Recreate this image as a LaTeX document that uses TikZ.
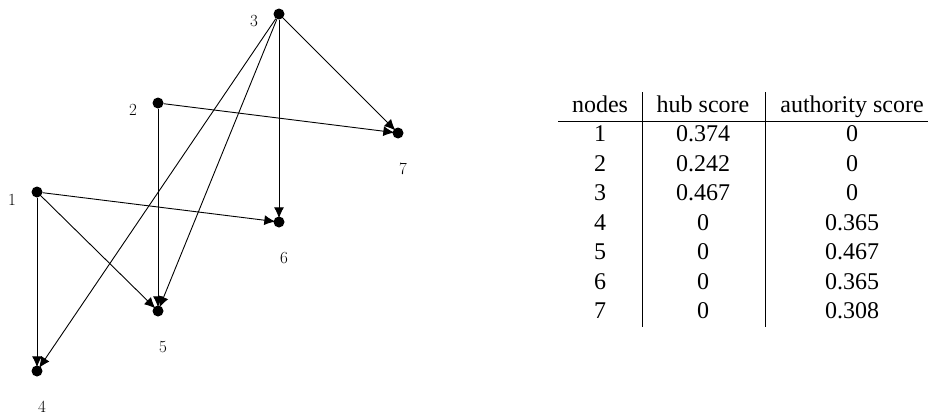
\documentclass[tikz,border=0pt]{standalone}
\usepackage{fontspec}
\newfontfamily\tabfont{Liberation Serif}
\usetikzlibrary{arrows.meta}

\tikzset{
  vertex/.style={circle, fill=black, inner sep=0pt, minimum size=11pt},
  vlabel/.style={font=\fontsize{17}{20}\selectfont},
  cell/.style={font=\tabfont\fontsize{24}{28}\selectfont, inner sep=0pt, anchor=base},
  link/.style={-{Latex[length=11pt,width=10pt]}, line width=0.9pt, shorten >=-2pt}
}

\begin{document}
\begin{tikzpicture}[x=1pt, y=-1pt]
    \useasboundingbox (0,0) rectangle (932,415);

    % graph
    \node[vertex] (n1) at (37,192) {};
    \node[vertex] (n2) at (158,103) {};
    \node[vertex] (n3) at (279,14) {};
    \node[vertex] (n4) at (37,371) {};
    \node[vertex] (n5) at (158,311) {};
    \node[vertex] (n6) at (279,222) {};
    \node[vertex] (n7) at (398,133) {};

    \node[vlabel] (l1) at (12,200) {1};
    \node[vlabel] (l2) at (133,110) {2};
    \node[vlabel] (l3) at (254,21) {3};
    \node[vlabel] (l4) at (42,407) {4};
    \node[vlabel] (l5) at (163,347) {5};
    \node[vlabel] (l6) at (284,258) {6};
    \node[vlabel] (l7) at (403,169) {7};

    \draw[link] (n3) -- (n7);
    \draw[link] (n3) -- (n6);
    \draw[link] (n3) -- (n5);
    \draw[link] (n3) -- (n4);
    \draw[link] (n2) -- (n7);
    \draw[link] (n2) -- (n5);
    \draw[link] (n1) -- (n6);
    \draw[link] (n1) -- (n5);
    \draw[link] (n1) -- (n4);

    % table
    \node[cell] (hnodes) at (600,112) {nodes};
    \node[cell] (hhub) at (703,112) {hub score};
    \node[cell] (hauth) at (852,112) {authority score};
    \draw[line width=0.8pt] (558,121) -- (928,121);
    \draw[line width=0.8pt] (642,92) -- (642,327);
    \draw[line width=0.8pt] (765,92) -- (765,327);

    \foreach \i/\h/\a [count=\k from 0] in {1/0.374/0, 2/0.242/0, 3/0.467/0,
        4/0/0.365, 5/0/0.467, 6/0/0.365, 7/0/0.308} {
      \node[cell] (r\i a) at (600,141.5+29.5*\k) {\i};
      \node[cell] (r\i b) at (703,141.5+29.5*\k) {\h};
      \node[cell] (r\i c) at (852,141.5+29.5*\k) {\a};
    }
\end{tikzpicture}
\end{document}
